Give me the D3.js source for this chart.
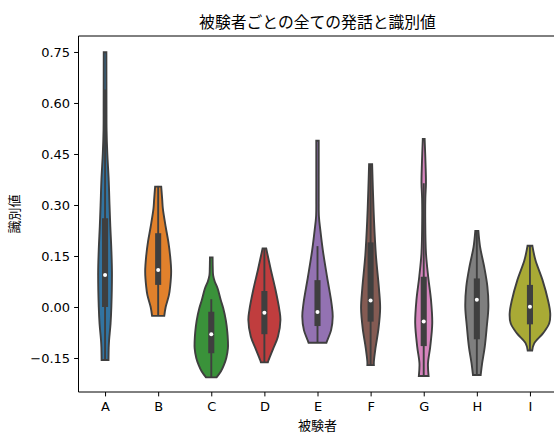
<!DOCTYPE html>
<html>
<head>
<meta charset="utf-8">
<script src="https://cdn.jsdelivr.net/npm/d3@7"></script>
<style>
  html, body { margin: 0; padding: 0; background: #fff; }
  svg { display: block; }
  text { font-family: "Noto Sans CJK JP", "Noto Sans", sans-serif; fill: #000; }
</style>
</head>
<body>
<svg id="chart" width="554" height="433"></svg>
<script>
// ---------- data ----------
const categories = ["A", "B", "C", "D", "E", "F", "G", "H", "I"];
const colors = ["#3274a1", "#e1812c", "#3a923a", "#c03d3e", "#9372b2", "#845b53", "#d684bd", "#7f7f7f", "#a9aa35"];
const yTicks = [-0.15, 0.00, 0.15, 0.30, 0.45, 0.60, 0.75];

// density profiles: [value, relative density]
const profileA = [[-0.156,0.17],[-0.12,0.18],[-0.097,0.20],[-0.05,0.27],[0.0,0.31],[0.1,0.34],[0.17,0.31],[0.236,0.26],[0.30,0.22],[0.373,0.18],[0.453,0.11],[0.52,0.075],[0.589,0.07],[0.749,0.065]];
const profileB = [[-0.026,0.30],[0.0,0.37],[0.035,0.53],[0.06,0.59],[0.104,0.64],[0.15,0.59],[0.192,0.50],[0.236,0.37],[0.29,0.23],[0.315,0.20],[0.354,0.15]];
const profileC = [[-0.207,0.26],[-0.19,0.47],[-0.171,0.62],[-0.15,0.74],[-0.121,0.82],[-0.10,0.82],[-0.073,0.79],[-0.04,0.72],[-0.004,0.59],[0.02,0.47],[0.055,0.31],[0.075,0.17],[0.094,0.09],[0.11,0.075],[0.146,0.065]];
const profileD = [[-0.163,0.17],[-0.156,0.21],[-0.126,0.41],[-0.087,0.67],[-0.038,0.79],[-0.009,0.74],[0.05,0.55],[0.109,0.32],[0.15,0.17],[0.172,0.09]];
const profileE = [[-0.105,0.44],[-0.097,0.49],[-0.068,0.67],[-0.028,0.75],[0.011,0.69],[0.089,0.47],[0.168,0.26],[0.226,0.14],[0.266,0.07],[0.32,0.06],[0.40,0.06],[0.489,0.06]];
const profileF = [[-0.171,0.16],[-0.161,0.16],[-0.121,0.24],[-0.063,0.39],[-0.004,0.47],[0.055,0.41],[0.153,0.26],[0.251,0.17],[0.349,0.11],[0.42,0.075]];
const profileG = [[-0.203,0.24],[-0.166,0.21],[-0.117,0.32],[-0.048,0.42],[0.02,0.36],[0.089,0.22],[0.159,0.11],[0.256,0.075],[0.32,0.08],[0.365,0.11],[0.42,0.09],[0.494,0.045]];
const profileH = [[-0.2,0.19],[-0.166,0.26],[-0.117,0.39],[-0.058,0.49],[0.001,0.57],[0.06,0.52],[0.119,0.36],[0.177,0.16],[0.224,0.075]];
const profileI = [[-0.128,0.11],[-0.107,0.21],[-0.077,0.65],[-0.048,0.95],[-0.019,1.0],[0.02,0.89],[0.079,0.62],[0.138,0.27],[0.18,0.12]];
const profiles = [profileA, profileB, profileC, profileD, profileE, profileF, profileG, profileH, profileI];

// box statistics
const boxQ1     = [0.0,   0.065, -0.136, -0.080, -0.056, -0.043, -0.115, -0.095, -0.051];
const boxMedian = [0.094, 0.109, -0.080, -0.017, -0.015,  0.019, -0.043,  0.021,  0.001];
const boxQ3     = [0.261, 0.217, -0.014,  0.047,  0.079,  0.190,  0.089,  0.084,  0.065];
const whiskerLow  = [-0.156, -0.026, -0.207, -0.163, -0.105, -0.171, -0.203, -0.200, -0.128];
const whiskerHigh = [ 0.640,  0.356,  0.023,  0.172,  0.179,  0.420,  0.364,  0.224,  0.180];

// ---------- layout ----------
const svg = d3.select("#chart");
const mLeft = 78.5, mRight = 556.5, mTop = 36, mBottom = 392;
const edge = "#3f3f3f";
const lw = 1.9;

const x = d3.scalePoint().domain(categories).range([mLeft, mRight]).padding(0.5);
const step = x.step();
const y = d3.scaleLinear().domain([-0.25, 0.797]).range([mBottom, mTop]);
const maxDens = d3.max(profiles, p => d3.max(p, d => d[1]));
const w = d3.scaleLinear().domain([0, maxDens]).range([0, step * 0.4 - lw / 2]);

const g = svg.append("g");

categories.forEach((c, i) => {
  const cx = x(c);
  const area = d3.area()
    .y(d => y(d[0]))
    .x0(d => cx - w(d[1]))
    .x1(d => cx + w(d[1]))
    .curve(d3.curveCatmullRom.alpha(0.5));
  g.append("path")
    .attr("d", area(profiles[i]))
    .attr("fill", colors[i])
    .attr("stroke", edge)
    .attr("stroke-width", lw)
    .attr("stroke-linejoin", "miter");
  g.append("line")
    .attr("x1", cx).attr("x2", cx)
    .attr("y1", y(whiskerLow[i])).attr("y2", y(whiskerHigh[i]))
    .attr("stroke", edge).attr("stroke-width", lw);
  g.append("line")
    .attr("x1", cx).attr("x2", cx)
    .attr("y1", y(boxQ1[i])).attr("y2", y(boxQ3[i]))
    .attr("stroke", edge).attr("stroke-width", lw * 3.2);
  g.append("circle")
    .attr("cx", cx).attr("cy", y(boxMedian[i]))
    .attr("r", 2).attr("fill", "#fff");
});

// axes
const fs = 13;
const yAxis = d3.axisLeft(y).tickValues(yTicks).tickFormat(d3.format(".2f")).tickSize(4.4).tickPadding(4);
const xAxis = d3.axisBottom(x).tickSize(4.4).tickPadding(5);

const ya = svg.append("g").attr("transform", `translate(${mLeft},0)`).call(yAxis);
const xa = svg.append("g").attr("transform", `translate(0,${mBottom})`).call(xAxis);
[ya, xa].forEach(a => {
  a.select(".domain").remove();
  a.selectAll(".tick line").attr("stroke", "#000").attr("stroke-width", 1);
  a.selectAll(".tick text").attr("font-size", fs).attr("fill", "#000")
    .style("font-family", '"DejaVu Sans", sans-serif');
});

// spines
const spines = svg.append("g").attr("stroke", "#000").attr("stroke-width", 1).attr("fill", "none");
spines.append("line").attr("x1", mLeft).attr("x2", mLeft).attr("y1", mTop).attr("y2", mBottom);
spines.append("line").attr("x1", mLeft).attr("x2", mRight).attr("y1", mBottom).attr("y2", mBottom);
spines.append("line").attr("x1", mLeft).attr("x2", mRight).attr("y1", mTop).attr("y2", mTop);
spines.append("line").attr("x1", mRight).attr("x2", mRight).attr("y1", mTop).attr("y2", mBottom);

// labels
svg.append("text").attr("x", (mLeft + mRight) / 2).attr("y", 28).attr("text-anchor", "middle")
  .attr("font-size", 15.8).text("被験者ごとの全ての発話と識別値");
svg.append("text").attr("x", (mLeft + mRight) / 2).attr("y", 430).attr("text-anchor", "middle")
  .attr("font-size", fs).text("被験者");
svg.append("text").attr("transform", `translate(13.5,${(mTop + mBottom) / 2}) rotate(-90)`)
  .attr("text-anchor", "middle").attr("dominant-baseline", "central")
  .attr("font-size", fs).text("識別値");
</script>
</body>
</html>
